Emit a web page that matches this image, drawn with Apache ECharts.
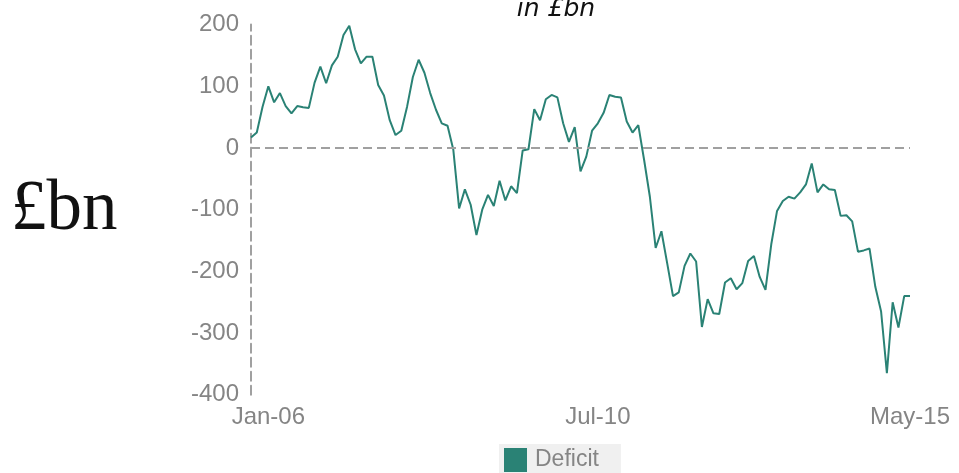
<!DOCTYPE html>
<html>
<head>
<meta charset="utf-8">
<script src="https://cdn.jsdelivr.net/npm/echarts@6/dist/echarts.min.js"></script>
<style>
  html, body { margin: 0; padding: 0; background: #fff; }
  #chart { width: 959px; height: 473px; }
</style>
</head>
<body>
<div id="chart"></div>
<script>
// monthly deficit, £bn
const deficit = [
  17, 25, 67, 100, 74, 89, 68, 56, 68, 66,
  65, 106, 132, 105, 134, 148, 183, 198, 160, 137,
  148, 148, 102, 85, 45, 21, 28, 67, 115, 143,
  122, 89, 62, 40, 36, -3, -98, -67, -92, -141,
  -100, -76, -94, -53, -85, -62, -73, -4, -2, 63,
  45, 79, 86, 82, 40, 10, 34, -38, -14, 28,
  40, 57, 86, 83, 82, 43, 25, 37, -19, -79,
  -162, -135, -187, -240, -234, -191, -171, -184, -290, -245,
  -268, -269, -218, -211, -229, -219, -183, -175, -209, -230,
  -156, -102, -86, -79, -82, -72, -59, -25, -72, -59,
  -67, -68, -110, -109, -119, -168, -166, -163, -225, -265,
  -365, -250, -291, -240, -240
]
const xTickIndex = [3, 60, 114]
const xTickLabels = ['Jan-06', 'Jul-10', 'May-15']
const categories = deficit.map((v, i) => String(i))

const GREY = '#858585'
const TEAL = '#2a8275'

const chart = echarts.init(document.getElementById('chart'))
chart.setOption({
  animation: false,
  grid: { left: 251, right: 49, top: 24.6, bottom: 78.2, containLabel: false },
  graphic: [
    {
      type: 'text', left: 11, top: 175,
      style: { text: '£bn', font: '71px "Liberation Serif", serif', fill: '#111' }
    },
    {
      type: 'text', x: 556, y: 22,
      style: {
        text: 'in £bn', font: 'italic 25px "DejaVu Sans", sans-serif', fill: '#111',
        align: 'center', verticalAlign: 'bottom'
      }
    }
  ],
  legend: {
    data: ['Deficit'],
    left: 499, top: 444,
    backgroundColor: '#f0f0f0',
    padding: [4, 22, 4, 5],
    itemWidth: 23, itemHeight: 24, itemGap: 8,
    icon: 'rect',
    textStyle: { color: GREY, fontSize: 23, fontFamily: 'Liberation Sans', padding: [0, 0, 0, 3] }
  },
  xAxis: {
    type: 'category',
    data: categories,
    boundaryGap: false,
    axisLine: { show: false },
    axisTick: { show: false },
    axisLabel: {
      interval: (i) => xTickIndex.includes(i),
      formatter: (v, i) => xTickLabels[xTickIndex.indexOf(i)] || '',
      color: GREY, fontSize: 24, fontFamily: 'Liberation Sans', margin: 11
    },
    splitLine: { show: false }
  },
  yAxis: {
    type: 'value',
    min: -400, max: 200, interval: 100,
    axisLine: { show: true, lineStyle: { color: '#a0a0a0', width: 2, type: [9, 5] } },
    axisTick: { show: false },
    axisLabel: { color: GREY, fontSize: 24, fontFamily: 'Liberation Sans', margin: 12 },
    splitLine: { show: false }
  },
  series: [{
    name: 'Deficit',
    type: 'line',
    data: deficit,
    symbol: 'none',
    itemStyle: { color: TEAL },
    lineStyle: { color: TEAL, width: 2 },
    markLine: {
      silent: true, symbol: 'none',
      label: { show: false },
      lineStyle: { color: '#a0a0a0', width: 2, type: [9, 5] },
      data: [{ yAxis: 0 }]
    }
  }]
})
</script>
</body>
</html>
